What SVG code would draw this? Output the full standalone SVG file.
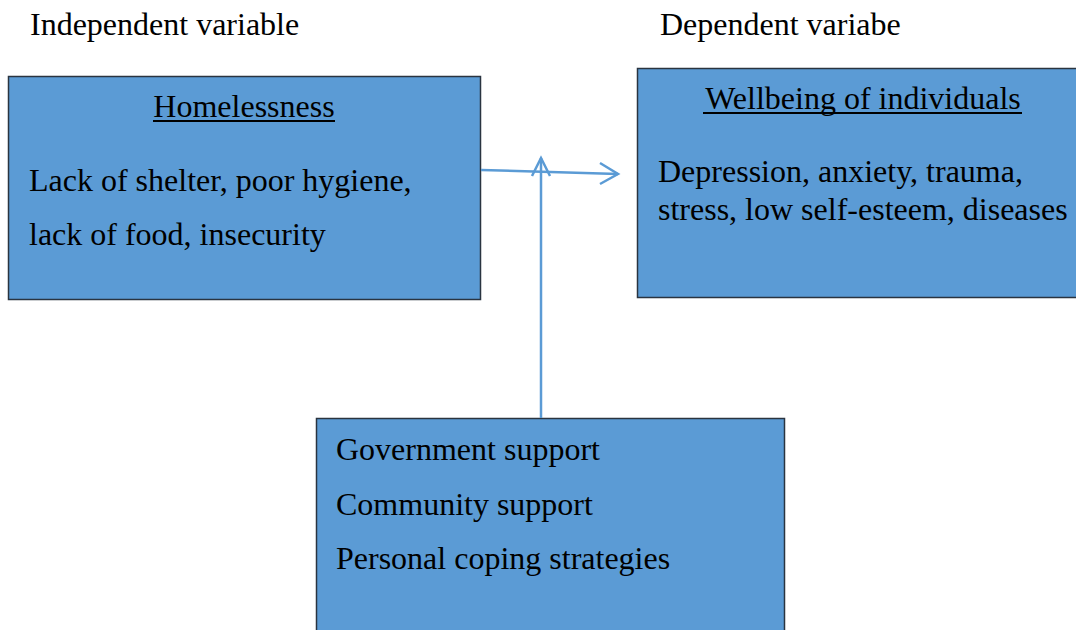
<svg xmlns="http://www.w3.org/2000/svg" width="1076" height="630" viewBox="0 0 1076 630">
<style>
.box{fill:#5B9BD5;stroke:#2a3440;stroke-width:1.5}
.t{font-family:"Liberation Serif","Times New Roman",serif;font-size:32px;fill:#000}
.ul{stroke:#000;stroke-width:2}
.c{stroke:#5B9BD5;stroke-width:2.5;fill:none}
</style>
<rect width="1076" height="630" fill="#fff"/>
<text class="t" x="30" y="35">Independent variable</text>
<text class="t" x="660" y="35">Dependent variabe</text>
<g id="homelessness">
<rect class="box" x="8.5" y="76.5" width="472" height="223"/>
<text class="t" x="244" y="117" text-anchor="middle">Homelessness</text>
<line class="ul" x1="153" y1="121" x2="335" y2="121"/>
<text class="t" x="29" y="191">Lack of shelter, poor hygiene,</text>
<text class="t" x="29" y="245">lack of food, insecurity</text>
</g>
<g id="wellbeing">
<rect class="box" x="637.5" y="68.5" width="445" height="229"/>
<text class="t" x="863" y="109" text-anchor="middle">Wellbeing of individuals</text>
<line class="ul" x1="703" y1="113" x2="1022" y2="113"/>
<text class="t" x="658" y="182">Depression, anxiety, trauma,</text>
<text class="t" x="658" y="220">stress, low self-esteem, diseases</text>
</g>
<g id="support">
<rect class="box" x="316.5" y="418.5" width="468" height="220"/>
<text class="t" x="336" y="460">Government support</text>
<text class="t" x="336" y="515">Community support</text>
<text class="t" x="336" y="569">Personal coping strategies</text>
</g>
<g id="connectors">
<path class="c" d="M481 170 L618 174"/>
<path class="c" d="M600 163 L618 174 L600 184"/>
<path class="c" d="M541 418 L541 158"/>
<path class="c" d="M532 176 L541 158 L550 176"/>
</g>
</svg>
